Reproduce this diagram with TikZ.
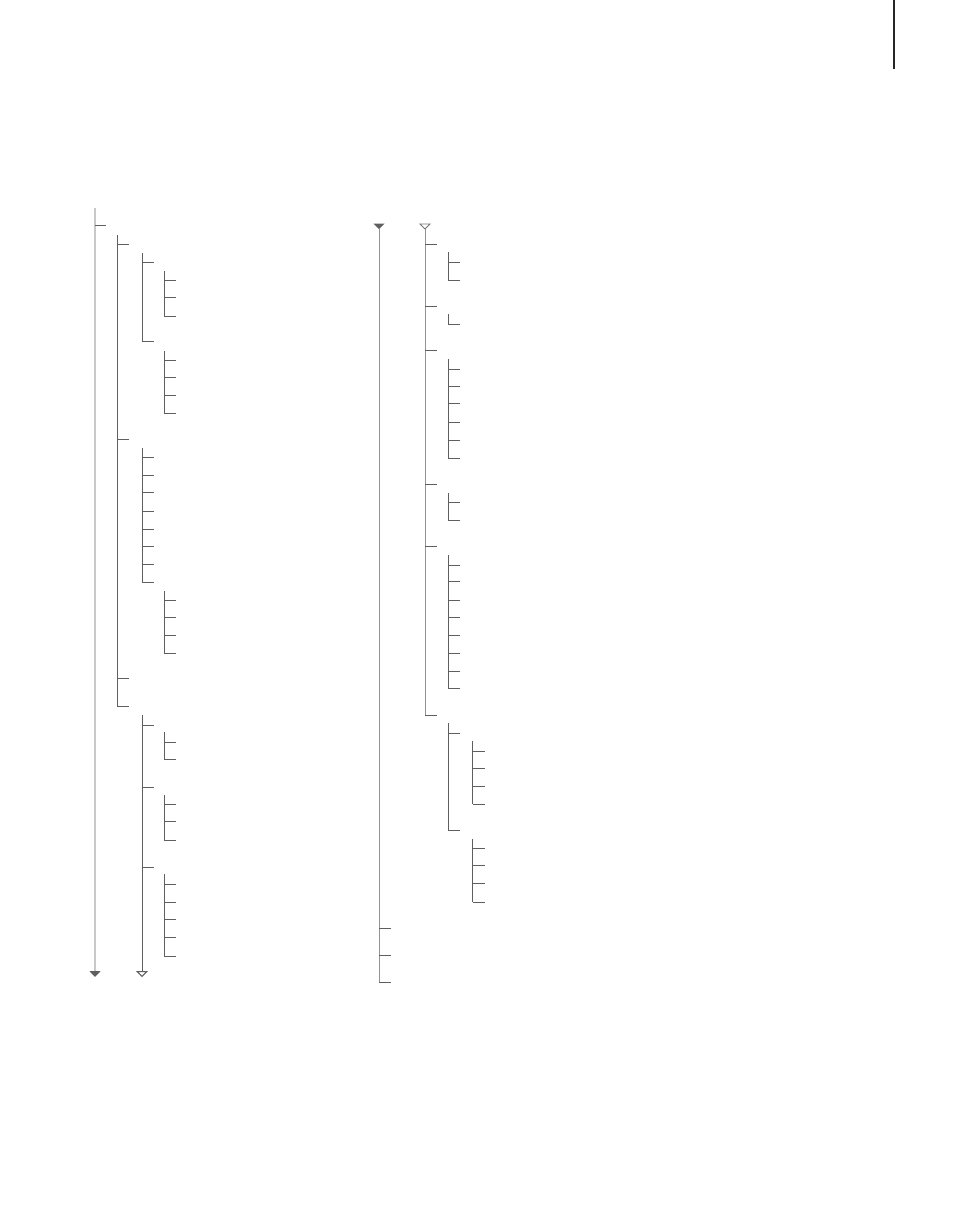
\documentclass[tikz,border=0pt]{standalone}
\usetikzlibrary{arrows.meta}

\definecolor{linegray}{HTML}{5F5F5F}
\definecolor{trunkgray}{HTML}{939393}
\definecolor{palegray}{HTML}{C8C8C8}

% #1 = x, #2 = top, #3 = bottom, #4 = ticks
\newcommand{\subtree}[4]{%
  \draw[branch] (#1,#2) -- (#1,#3);
  \foreach \ty in {#4} \draw[branch] (#1,\ty) -- ++(12,0);
}

\begin{document}
\begin{tikzpicture}[
		x=1pt, y=-1pt,
		branch/.style={draw=linegray, line width=1pt},
		trunk/.style={draw=trunkgray, line width=1pt},
		downtip/.style={line width=0.8pt, line join=miter}
	]
  \useasboundingbox (0,0) rectangle (954,1224);

  % page mark
  \coordinate (mark_top) at (894,0);
  \coordinate (mark_bot) at (894,69);
  \draw[line width=1.4pt, black!85] (mark_top) -- (mark_bot);

  % left tree
  \coordinate (root_top) at (95,208);
  \coordinate (root_bot) at (95,977);
  \draw[draw=palegray, line width=2pt, -{Triangle[width=11pt, length=6pt, fill=linegray, color=linegray]}] (root_top) -- (root_bot);
  \draw[branch] (95,225) -- ++(11,0);

  \subtree{117}{235}{706}{244, 439, 678, 706}

  \subtree{142}{253}{341}{262, 341}
  \subtree{142}{448}{582}{457, 475, 492, 511, 529, 546, 564, 582}
  \coordinate (sub_top) at (142,715);
  \coordinate (sub_bot) at (142,977);
  \draw[branch, -{Triangle[open, width=12pt, length=6pt, fill=white]}] (sub_top) -- (sub_bot);
  \foreach \ty in {725, 787, 867} \draw[branch] (142,\ty) -- ++(12,0);

  \subtree{164}{271}{316}{280, 297, 316}
  \subtree{164}{351}{413}{360, 377, 395, 413}
  \subtree{164}{591}{653}{600, 617, 635, 653}
  \subtree{164}{732}{759}{742, 759}
  \subtree{164}{795}{840}{804, 821, 840}
  \subtree{164}{874}{956}{884, 902, 919, 937, 956}

  % right tree
  \coordinate (left_top) at (379,229);
  \coordinate (left_bot) at (379,982);
  \fill[linegray, downtip] (left_top) ++(-5.5,-5.5) -- ++(11,0) -- (left_top) -- cycle;
  \draw[trunk] (left_top) -- (left_bot);
  \foreach \ty in {928, 955, 982} \draw[branch] (379,\ty) -- ++(12,0);

  \coordinate (right_top) at (425,229);
  \coordinate (right_bot) at (425,715);
  \draw[linegray!85, fill=white, downtip] (right_top) ++(-5,-5) -- ++(10,0) -- (right_top) -- cycle;
  \draw[trunk] (right_top) -- (right_bot);
  \foreach \ty in {244, 306, 350, 484, 546, 715} \draw[branch] (425,\ty) -- ++(12,0);

  \subtree{448}{252}{280}{262, 280}
  \subtree{448}{314}{324}{324}
  \subtree{448}{359}{458}{369, 386, 403, 422, 440, 458}
  \subtree{448}{493}{520}{502, 520}
  \subtree{448}{555}{688}{565, 581, 600, 617, 635, 653, 671, 688}
  \subtree{448}{723}{830}{733, 830}

  \subtree{472.5}{741}{804}{751, 768, 786, 804}
  \subtree{472.5}{839}{902}{848, 865, 883, 902}
\end{tikzpicture}
\end{document}
